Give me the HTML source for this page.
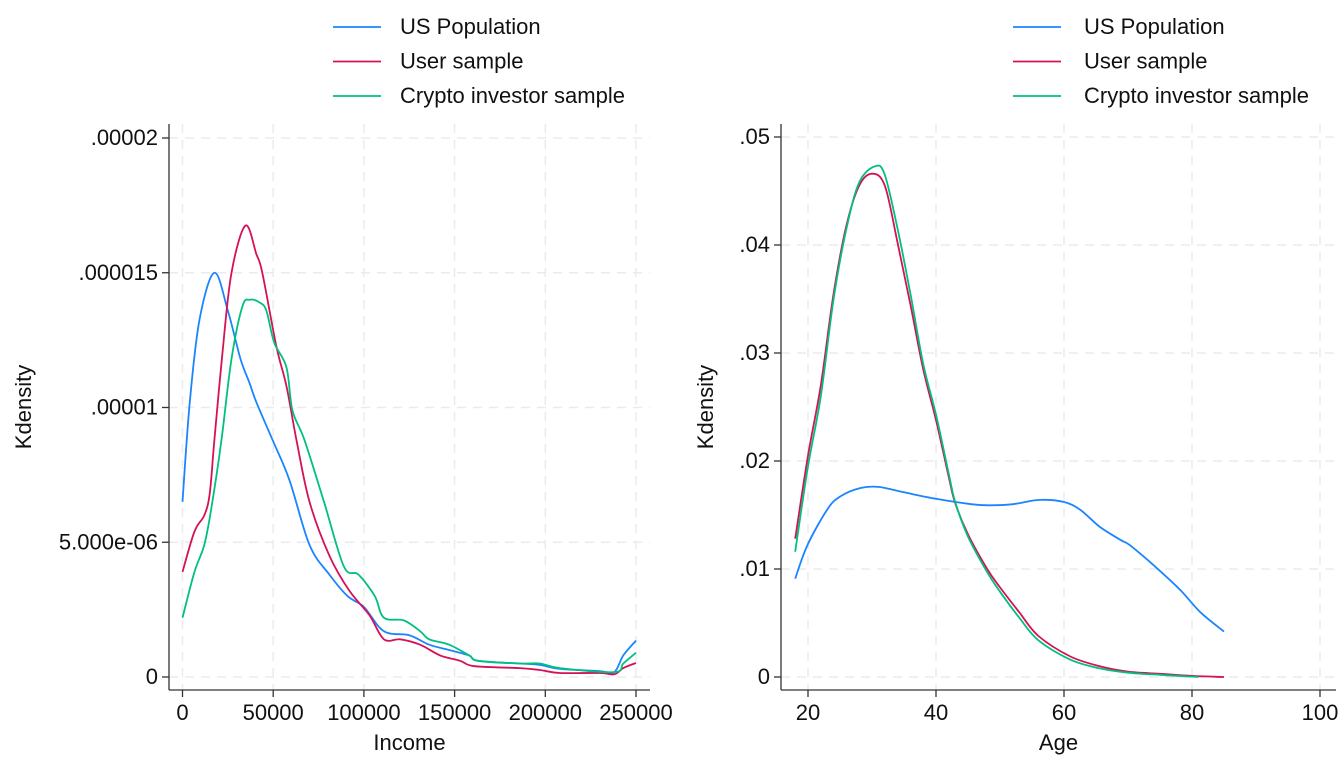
<!DOCTYPE html>
<html><head><meta charset="utf-8"><style>
body{margin:0;background:#fff;}
svg{font-family:"Liberation Sans",Arial,sans-serif;}
</style></head><body>
<svg id="c" width="1341" height="759" xmlns="http://www.w3.org/2000/svg"></svg>
<script>
// ---- Income panel data (density in units of 1e-6) ----
const incUSx=[0,4000,9500,17600,25000,32000,37000,40700,49600,59000,70000,81000,91000,100000,111000,125000,136000,147000,158000,163000,186000,197000,208000,230000,238000,243000,250000];
const incUSy=[6.5,10.2,13.3,15.0,13.6,11.8,10.9,10.2,8.8,7.3,4.9,3.8,3.0,2.6,1.7,1.55,1.2,1.0,0.8,0.6,0.5,0.45,0.3,0.22,0.18,0.8,1.35];
const incUserX=[0,6600,12000,15000,17600,22000,27000,34700,40700,44000,51800,57300,62800,70000,81000,92000,103000,111000,120000,131000,142000,153000,161000,186000,197000,208000,230000,238000,243000,250000];
const incUserY=[3.9,5.4,6.0,6.8,8.8,12.0,15.0,16.75,15.7,15.0,12.25,10.8,8.8,6.5,4.5,3.2,2.3,1.4,1.4,1.2,0.8,0.6,0.4,0.33,0.26,0.15,0.15,0.1,0.33,0.52];
const incCrX=[0,6600,12000,16000,21500,27000,33000,37000,42400,46200,50600,57300,60600,67200,78000,89000,97000,106000,111000,122000,131000,136000,147000,158000,163000,186000,197000,208000,238000,243000,250000];
const incCrY=[2.2,3.9,4.9,6.3,8.8,11.8,13.75,14.0,13.9,13.6,12.4,11.5,9.9,8.8,6.5,4.1,3.8,3.0,2.2,2.1,1.7,1.4,1.2,0.8,0.6,0.5,0.5,0.33,0.18,0.5,0.9];
const incXTicks=[0,50000,100000,150000,200000,250000];
const incYTicks=[0,5,10,15,20];
const incYLabels=["0","5.000e-06",".00001",".000015",".00002"];
// ---- Age panel data ----
const ageUSx=[18,19.9,23,25,28.2,31,35,40,45.5,48.4,52,56.2,60,62.5,65.6,68.8,70.3,73.9,78.1,81.3,85];
const ageUSy=[0.0091,0.0122,0.0155,0.0167,0.0175,0.0176,0.0171,0.0165,0.016,0.0159,0.016,0.0164,0.0162,0.0155,0.0139,0.0127,0.0122,0.0104,0.0081,0.006,0.0042];
const ageUserX=[18,20,22,24,26,28,30,32,34,36,38,40,42,43,45,48,50,53,56,61,65.6,70,75,80,85];
const ageUserY=[0.0128,0.0205,0.027,0.0355,0.0418,0.0455,0.0466,0.0455,0.0402,0.0345,0.0285,0.0238,0.0185,0.0161,0.0132,0.010,0.0083,0.006,0.0038,0.0019,0.001,0.0005,0.0003,0.0001,0];
const ageCrX=[18,20,22,24,26,28,30.5,32,34,36,38,40,42,43,45,48,50,53,56,61,65.6,70,75,81];
const ageCrY=[0.0116,0.0195,0.026,0.035,0.0415,0.0458,0.0473,0.0465,0.0415,0.0355,0.029,0.0243,0.0188,0.0162,0.013,0.0097,0.0079,0.0055,0.0034,0.0016,0.0008,0.0004,0.0002,0];
const ageXTicks=[20,40,60,80,100];
const ageYTicks=[0,0.01,0.02,0.03,0.04,0.05];
const ageYLabels=["0",".01",".02",".03",".04",".05"];
const seriesNames=["US Population","User sample","Crypto investor sample"];
const colors=["#1a85ff","#d41159","#00c07f"];

const svg=document.getElementById('c');
const NS="http://www.w3.org/2000/svg";
function el(tag,attrs,parent){const e=document.createElementNS(NS,tag);for(const k in attrs)e.setAttribute(k,attrs[k]);(parent||svg).appendChild(e);return e;}
function smooth(P){
  let d='M'+P[0][0].toFixed(1)+','+P[0][1].toFixed(1);
  for(let i=0;i<P.length-1;i++){
    const p0=P[i-1]||P[i],p1=P[i],p2=P[i+1],p3=P[i+2]||P[i+1];
    const c1=[p1[0]+(p2[0]-p0[0])/6,p1[1]+(p2[1]-p0[1])/6];
    const c2=[p2[0]-(p3[0]-p1[0])/6,p2[1]-(p3[1]-p1[1])/6];
    d+=' C'+c1.map(v=>v.toFixed(1)).join(',')+' '+c2.map(v=>v.toFixed(1)).join(',')+' '+p2[0].toFixed(1)+','+p2[1].toFixed(1);
  }
  return d;
}
const FS=22;
function panel(p){
  const g=el('g',{});
  
  
  const sx=v=>p.x0+(v-p.xmin)*(p.x1-p.x0)/(p.xmax-p.xmin);
  const sy=v=>p.y0+(v-p.ymin)*(p.y1-p.y0)/(p.ymax-p.ymin);
  p.yt.forEach(t=>{const l=el('line',{x1:p.axL,x2:p.axR,y1:sy(t),y2:sy(t),stroke:'#ebebeb','stroke-width':1.5,'stroke-dasharray':'9,7'},g);
    });
  p.xt.forEach(t=>{const l=el('line',{x1:sx(t),x2:sx(t),y1:p.axT,y2:p.axB,stroke:'#ebebeb','stroke-width':1.5,'stroke-dasharray':'9,7'},g);
    });
  const ya=el('line',{x1:p.axL,x2:p.axL,y1:p.axT,y2:p.axB,stroke:'#333','stroke-width':1.3},g);
  
  const xa=el('line',{x1:p.axL,x2:p.axR,y1:p.axB,y2:p.axB,stroke:'#333','stroke-width':1.3},g);
  
  p.yt.forEach((t,i)=>{el('line',{x1:p.axL-7,x2:p.axL,y1:sy(t),y2:sy(t),stroke:'#333','stroke-width':1.3},g);
    const tx=el('text',{x:p.axL-11,y:sy(t)+7,'text-anchor':'end','font-size':FS,fill:'#111'},g);tx.textContent=p.yl[i];
    });
  p.xt.forEach(t=>{el('line',{x1:sx(t),x2:sx(t),y1:p.axB,y2:p.axB+7,stroke:'#333','stroke-width':1.3},g);
    const tx=el('text',{x:sx(t),y:p.axB+30,'text-anchor':'middle','font-size':FS,fill:'#111'},g);tx.textContent=String(t);
    });
  const xt=el('text',{x:(p.axL+p.axR)/2,y:750,'text-anchor':'middle','font-size':FS,fill:'#111'},g);xt.textContent=p.xtitle;
  
  const yt=el('text',{x:p.ytx,y:407,'text-anchor':'middle','font-size':FS,fill:'#111',transform:`rotate(-90 ${p.ytx} 407)`},g);yt.textContent='Kdensity';
  
  p.series.forEach((s,i)=>{
    const P=s[0].map((x,j)=>[sx(x),sy(s[1][j])]);
    const pl=el('path',{d:smooth(P),fill:'none',stroke:colors[i],'stroke-width':1.8,'stroke-linejoin':'round'},g);
    
    
  });
  seriesNames.forEach((n,i)=>{const y=27+i*34.5;
    const lg=el('g',{},g);
    
    el('line',{x1:p.legX,x2:p.legX+48,y1:y,y2:y,stroke:colors[i],'stroke-width':1.8},lg);
    const t=el('text',{x:p.legT,y:y+7,'font-size':FS,fill:'#111'},lg);t.textContent=n;});
}
panel({name:'income-panel',xmin:0,xmax:250000,x0:182.5,x1:636,ymin:0,ymax:20,y0:677,y1:138,
  axL:169,axR:650,axT:124,axB:690,xt:incXTicks,yt:incYTicks,yl:incYLabels,xtitle:'Income',ytx:31,legX:333,legT:400,
  series:[[incUSx,incUSy],[incUserX,incUserY],[incCrX,incCrY]]});
panel({name:'age-panel',xmin:20,xmax:100,x0:808,x1:1320,ymin:0,ymax:0.05,y0:677,y1:137,
  axL:781,axR:1336,axT:124,axB:690,xt:ageXTicks,yt:ageYTicks,yl:ageYLabels,xtitle:'Age',ytx:713,legX:1013,legT:1084,
  series:[[ageUSx,ageUSy],[ageUserX,ageUserY],[ageCrX,ageCrY]]});
</script>
</body></html>
